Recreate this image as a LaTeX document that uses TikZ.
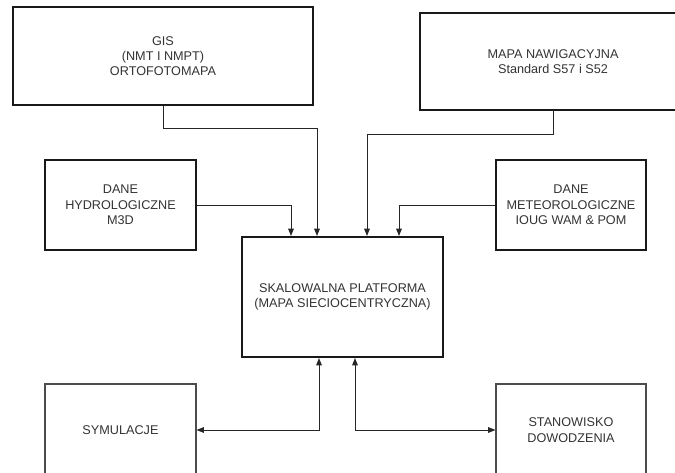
\documentclass[tikz,border=0pt]{standalone}
\usepackage{fontspec}
\setmainfont{Liberation Sans}
\usetikzlibrary{arrows.meta,calc}
\begin{document}
\begin{tikzpicture}[x=0.75pt,y=-0.75pt,
  thickbox/.style={draw=black!90,line width=1.5pt,align=center,inner sep=0pt,text=black!80,font=\fontsize{9.5}{11.5}\selectfont},
  thinbox/.style={draw=black!70,line width=0.8pt,align=center,inner sep=0pt,text=black!80,font=\fontsize{9.5}{11.5}\selectfont},
  conn/.style={draw=black!85,line width=0.75pt,-{Triangle[length=5.5pt,width=4.2pt]}},
  conn2/.style={draw=black!85,line width=0.75pt,{Triangle[length=5.5pt,width=4.2pt]}-{Triangle[length=5.5pt,width=4.2pt]}}]
\path[use as bounding box] (0,0) rectangle (675,472);
\clip (0,0) rectangle (675,472);
\node[thickbox,minimum width=225pt,minimum height=73.5pt] (gis) at (163,56) {GIS\\(NMT I NMPT)\\ORTOFOTOMAPA};
\node[thickbox,minimum width=199.5pt,minimum height=72.75pt] (mapa) at (553,61.5) {MAPA NAWIGACYJNA\\Standard S57 i S52};
\node[thickbox,minimum width=113.25pt,minimum height=67.5pt] (hyd) at (120.5,205) {DANE\\HYDROLOGICZNE\\M3D};
\node[thickbox,minimum width=112.5pt,minimum height=67.5pt] (met) at (571,205) {DANE\\METEOROLOGICZNE\\IOUG WAM \& POM};
\node[thickbox,minimum width=150.75pt,minimum height=90pt] (sk) at (342.5,297) {SKALOWALNA PLATFORMA\\(MAPA SIECIOCENTRYCZNA)};
\node[thinbox,minimum width=113.25pt,minimum height=69pt] (sym) at (120.5,430) {SYMULACJE};
\node[thinbox,minimum width=112.5pt,minimum height=69pt] (sta) at (571,430) {STANOWISKO\\DOWODZENIA};
\draw[conn] (gis.south) -- ++(0,22) -| ($(sk.north west)+(76,0)$);
\draw[conn] (mapa.south) -- ++(0,23) -| ($(sk.north west)+(126,0)$);
\draw[conn] (hyd.east) -| ($(sk.north west)+(50,0)$);
\draw[conn] (met.west) -| ($(sk.north west)+(158,0)$);
\draw[conn2] (sym.east) -| ($(sk.south west)+(78,0)$);
\draw[conn2] (sta.west) -| ($(sk.south west)+(114,0)$);
\end{tikzpicture}
\end{document}
